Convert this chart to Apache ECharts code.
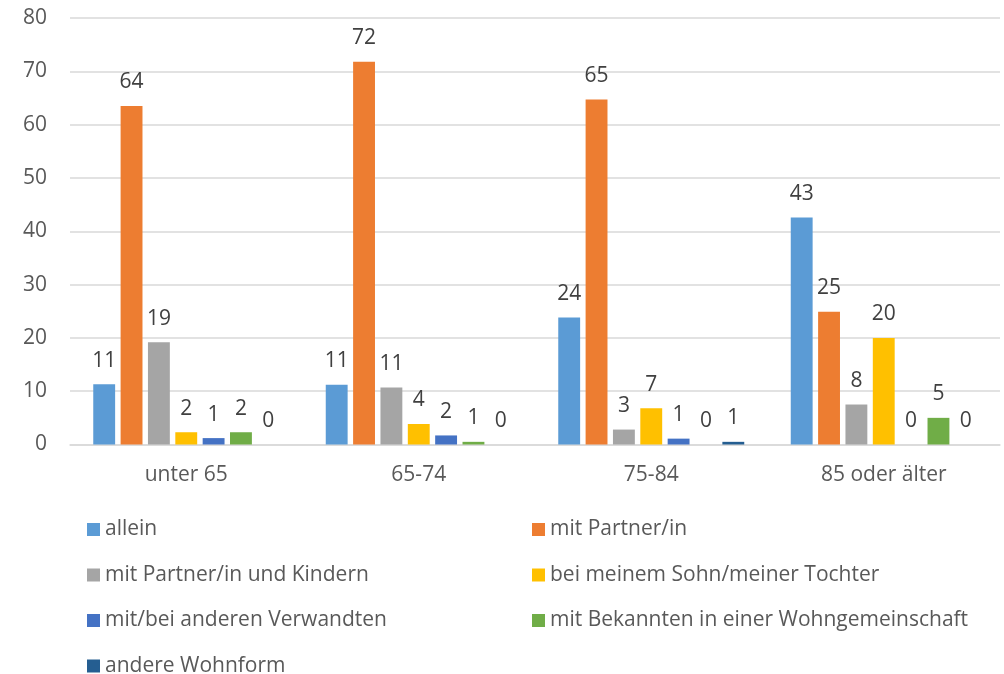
<!DOCTYPE html>
<html>
<head>
<meta charset="utf-8">
<script src="https://cdn.jsdelivr.net/npm/echarts@6/dist/echarts.min.js"></script>
<style>
  html, body { margin: 0; padding: 0; background: #fff; }
  #chart { width: 1004px; height: 674px; }
</style>
</head>
<body>
<div id="chart"></div>
<script>
const categories = ["unter 65", "65-74", "75-84", "85 oder älter"];

// values per series, one per age group
const allein = [11.3, 11.2, 23.8, 42.6];
const mitPartner = [63.5, 71.8, 64.7, 24.9];
const mitKindern = [19.2, 10.7, 2.8, 7.5];
const beiSohnTochter = [2.3, 3.85, 6.8, 20.0];
const verwandte = [1.2, 1.7, 1.1, 0];
const bekannte = [2.3, 0.5, 0, 5.0];
const andere = [0, 0, 0.5, 0];

const yTicks = [0, 10, 20, 30, 40, 50, 60, 70, 80];

const seriesDefs = [
  { name: "allein", data: allein, color: "#5B9BD5" },
  { name: "mit Partner/in", data: mitPartner, color: "#ED7D31" },
  { name: "mit Partner/in und Kindern", data: mitKindern, color: "#A5A5A5" },
  { name: "bei meinem Sohn/meiner Tochter", data: beiSohnTochter, color: "#FFC000" },
  { name: "mit/bei anderen Verwandten", data: verwandte, color: "#4472C4" },
  { name: "mit Bekannten in einer Wohngemeinschaft", data: bekannte, color: "#70AD47" },
  { name: "andere Wohnform", data: andere, color: "#255E91" }
];

const font = "'Open Sans', 'Noto Sans', sans-serif";
const textColor = "#595959";
const fs = 21;

const legendStyle = {
  orient: "vertical",
  icon: "rect",
  itemWidth: 13,
  itemHeight: 13,
  itemGap: 24.5,
  padding: 0,
  top: 519,
  height: 200,
  textStyle: { fontFamily: font, fontSize: fs, lineHeight: 20, color: textColor }
};

const chart = echarts.init(document.getElementById("chart"));
chart.setOption({
  animation: false,
  color: seriesDefs.map(s => s.color),
  grid: { left: 70, right: 4, top: 18, bottom: 229.5, containLabel: false },
  legend: [
    Object.assign({ left: 87, data: ["allein", "mit Partner/in und Kindern", "mit/bei anderen Verwandten", "andere Wohnform"] }, legendStyle),
    Object.assign({ left: 532, data: ["mit Partner/in", "bei meinem Sohn/meiner Tochter", "mit Bekannten in einer Wohngemeinschaft"] }, legendStyle)
  ],
  xAxis: {
    type: "category",
    data: categories,
    axisTick: { show: false },
    axisLine: { lineStyle: { color: "#D9D9D9", width: 1.5 } },
    axisLabel: { fontFamily: font, fontSize: fs, color: textColor, margin: 20 }
  },
  yAxis: {
    type: "value",
    min: yTicks[0],
    max: yTicks[yTicks.length - 1],
    interval: 10,
    axisLine: { show: false },
    axisTick: { show: false },
    splitLine: { lineStyle: { color: "#D9D9D9", width: 1.5 } },
    axisLabel: { fontFamily: font, fontSize: fs, color: textColor, margin: 23 }
  },
  series: seriesDefs.map(s => ({
    name: s.name,
    type: "bar",
    data: s.data,
    barGap: "25%",
    barCategoryGap: "20%",
    label: {
      show: true,
      position: "top",
      distance: 13,
      fontFamily: font,
      fontSize: fs,
      color: "#404040",
      formatter: p => Math.round(p.value)
    }
  }))
});
</script>
</body>
</html>
